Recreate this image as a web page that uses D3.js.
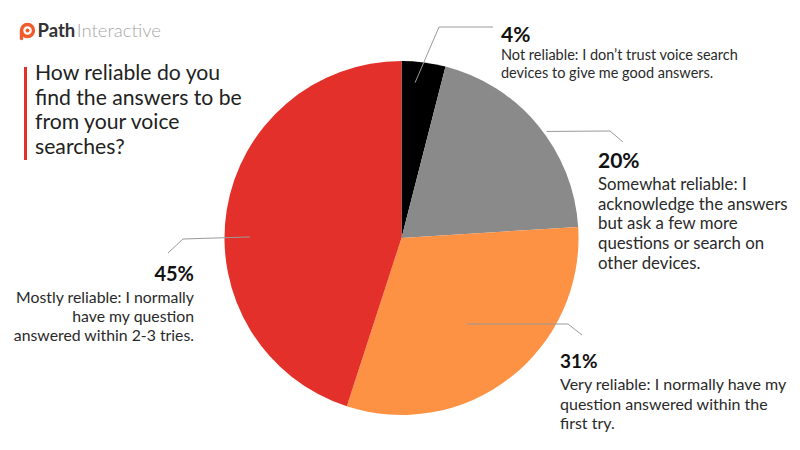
<!DOCTYPE html>
<html>
<head>
<meta charset="utf-8">
<script src="https://cdn.jsdelivr.net/npm/d3@7"></script>
<style>
  html, body { margin: 0; padding: 0; background: #fff; }
  svg { display: block; font-family: Lato, "Open Sans", sans-serif; }
</style>
</head>
<body>
<main></main>
<script>
// dados do gráfico
const categories = ['Not reliable', 'Somewhat reliable', 'Very reliable', 'Mostly reliable'];
const values = [4, 20, 31, 45];
const descriptions = [
  ['Not reliable: I don\u2019t trust voice search', 'devices to give me good answers.'],
  ['Somewhat reliable: I', 'acknowledge the answers', 'but ask a few more', 'questions or search on', 'other devices.'],
  ['Very reliable: I normally have my', 'question answered within the', 'first try.'],
  ['Mostly reliable: I normally', 'have my question', 'answered within 2-3 tries.']
];
const colors = ['#000000', '#8a8a8a', '#fd9244', '#e3302a'];
const titleLines = ['How reliable do you', 'find the answers to be', 'from your voice', 'searches?'];

const width = 800;
const height = 450;
const cx = 401.5;
const cy = 238;
const radius = 177;

// posição dos rótulos (ângulo da âncora em graus, raio, cotovelo, fim, texto)
const labelLayout = [
  { angle: 5,     r: 156,   elbowX: 439, elbowY: 27,  endX: 493, endY: 27,  tx: 501, ty: 42,  anchor: 'start', size: 14.5, pctSize: 21, lh: 17.5, gap: 18 },
  { angle: 53.7,  r: 180,   elbowX: 610, elbowY: 131, endX: 623, endY: 142, tx: 598, ty: 168, anchor: 'start', size: 16.8, pctSize: 21, lh: 19.7, gap: 22 },
  { angle: 142.7, r: 108,   elbowX: 568, elbowY: 324, endX: 582, endY: 335, tx: 560, ty: 368, anchor: 'start', size: 16,   pctSize: 19, lh: 19.5, gap: 22 },
  { angle: 270.4, r: 151.5, elbowX: 183, elbowY: 239, endX: 168, endY: 253, tx: 194, ty: 281, anchor: 'end',   size: 15.8, pctSize: 20, lh: 19,   gap: 22 }
];

const svg = d3.select('main').append('svg')
    .attr('width', width)
    .attr('height', height);

// logo
const logo = svg.append('g');
logo.append('circle')
    .attr('cx', 27.5).attr('cy', 30.5).attr('r', 6)
    .attr('fill', 'none')
    .attr('stroke', '#f15a2b')
    .attr('stroke-width', 3.4);
logo.append('path')
    .attr('d', 'M21.5,31 L21.5,38.5')
    .attr('stroke', '#f15a2b')
    .attr('stroke-width', 3.4)
    .attr('stroke-linecap', 'round');
logo.append('circle')
    .attr('cx', 27.5).attr('cy', 30.5).attr('r', 2)
    .attr('fill', '#f15a2b');
const logoText = logo.append('text')
    .attr('x', 37.5)
    .attr('y', 37)
    .attr('font-size', 18.5);
logoText.append('tspan').attr('font-weight', 'bold').attr('fill', '#333').text('Path');
logoText.append('tspan').attr('dx', 1.5).attr('font-weight', 300).attr('fill', '#a8a8a8').text('Interactive');

// título
svg.append('rect')
    .attr('x', 24).attr('y', 67)
    .attr('width', 3).attr('height', 93)
    .attr('fill', '#e3302a');

svg.append('g')
  .selectAll('text')
  .data(titleLines)
  .enter().append('text')
    .attr('x', 35)
    .attr('y', (d, i) => 80 + i * 24.6)
    .attr('font-size', 21.2)
    .attr('fill', '#222')
    .text(d => d);

// pizza
const pie = d3.pie().sort(null).value(d => d);
const arcs = pie(values);
const arc = d3.arc().innerRadius(0).outerRadius(radius);

const g = svg.append('g').attr('transform', `translate(${cx},${cy})`);
g.selectAll('path')
  .data(arcs)
  .enter().append('path')
    .attr('d', arc)
    .attr('fill', (d, i) => colors[i]);

// linhas guia
const polar = (deg, r) => {
  const a = deg * Math.PI / 180;
  return [cx + Math.sin(a) * r, cy - Math.cos(a) * r];
};

svg.append('g')
  .selectAll('polyline')
  .data(labelLayout)
  .enter().append('polyline')
    .attr('points', d => [polar(d.angle, d.r), [d.elbowX, d.elbowY], [d.endX, d.endY]].map(p => p.join(',')).join(' '))
    .attr('fill', 'none')
    .attr('stroke', '#9a9a9a')
    .attr('stroke-width', 1);

// rótulos
const labels = svg.append('g')
  .selectAll('g')
  .data(arcs)
  .enter().append('g');

labels.append('text')
    .attr('x', (d, i) => labelLayout[i].tx)
    .attr('y', (d, i) => labelLayout[i].ty)
    .attr('text-anchor', (d, i) => labelLayout[i].anchor)
    .attr('font-size', (d, i) => labelLayout[i].pctSize)
    .attr('font-weight', 'bold')
    .attr('fill', '#111')
    .text(d => d.data + '%');

labels.each(function (d, i) {
  const l = labelLayout[i];
  d3.select(this).append('text')
      .attr('text-anchor', l.anchor)
      .attr('font-size', l.size)
      .attr('fill', '#2a2a2a')
    .selectAll('tspan')
    .data(descriptions[i])
    .enter().append('tspan')
      .attr('x', l.tx)
      .attr('y', (t, j) => l.ty + l.gap + j * l.lh)
      .text(t => t);
});
</script>
</body>
</html>
